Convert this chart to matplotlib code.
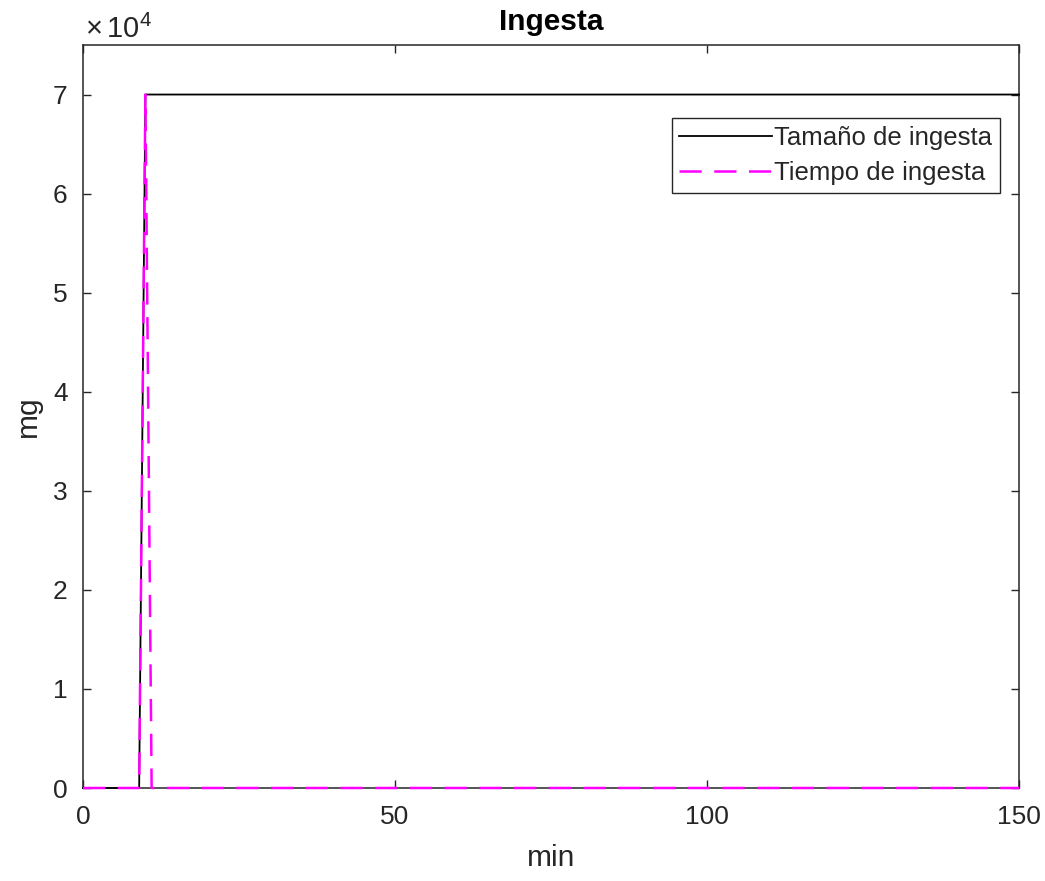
import matplotlib
matplotlib.use("Agg")
import matplotlib.pyplot as plt
from matplotlib.ticker import FuncFormatter

plt.rcParams['font.family'] = ['Liberation Sans', 'DejaVu Sans']
plt.rcParams['mathtext.fontset'] = 'custom'
plt.rcParams['mathtext.rm'] = 'Liberation Sans'
plt.rcParams['lines.scale_dashes'] = False

# Data (min, mg)
tamano_t = [0, 9, 10, 150]
tamano_mg = [0, 0, 70000, 70000]
tiempo_t = [0, 9, 10, 11, 150]
tiempo_mg = [0, 0, 70000, 0, 0]

x_ticks = [0, 50, 100, 150]
y_ticks = [0, 10000, 20000, 30000, 40000, 50000, 60000, 70000]

gray = (0.15, 0.15, 0.15)

fig = plt.figure(figsize=(10.45, 8.81), dpi=100)
ax = fig.add_axes([83/1045, 1-788/881, (1019-83)/1045, (788-45)/881])

ax.plot(tamano_t, tamano_mg, color='black', lw=1.3, label='Tamaño de ingesta',
        zorder=3, clip_on=False)
ax.plot(tiempo_t, tiempo_mg, color='#ff00ff', lw=1.8, dashes=(16, 9),
        label='Tiempo de ingesta', zorder=4, clip_on=False)

ax.set_xlim(0, 150)
ax.set_ylim(0, 75000)
ax.set_xticks(x_ticks)
ax.set_yticks(y_ticks)
ax.yaxis.set_major_formatter(FuncFormatter(lambda v, p: f"{v/1e4:g}"))
ax.tick_params(direction='in', length=6, width=1, colors=gray, labelsize=19,
               top=True, right=True)
ax.tick_params(axis='x', pad=12)
ax.tick_params(axis='y', pad=11)
for s in ax.spines.values():
    s.set_color(gray)
    s.set_linewidth(1.1)

ax.set_title('Ingesta', fontsize=21.5, fontweight='bold', pad=11)
ax.set_xlabel('min', fontsize=21.5, color=gray, labelpad=11)
ax.set_ylabel('mg', fontsize=21.5, color=gray, labelpad=8)
ax.text(0.002, 1.0094, r'$\times\,$10$^{4}$', transform=ax.transAxes, ha='left',
        va='baseline', fontsize=21, color=gray)

leg = ax.legend(loc='upper right', bbox_to_anchor=(0.9797, 0.9017), fontsize=18.5,
                frameon=True, fancybox=False, handlelength=3.6, handletextpad=0.1,
                borderpad=0.3, labelspacing=0.45, borderaxespad=0)
leg.get_frame().set_edgecolor(gray)
leg.get_frame().set_linewidth(1.0)
leg.get_frame().set_alpha(1)
for t in leg.get_texts():
    t.set_color(gray)

fig.savefig('out.png', dpi=100)
